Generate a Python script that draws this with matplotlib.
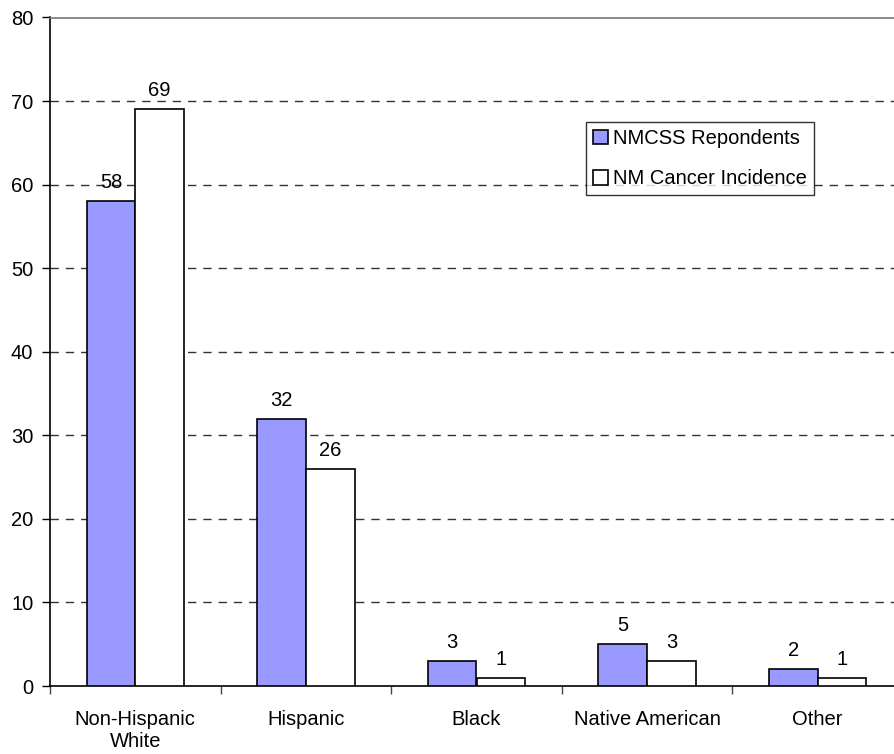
import matplotlib
matplotlib.use("Agg")
import matplotlib.pyplot as plt
import numpy as np

categories = ["Non-Hispanic\nWhite", "Hispanic", "Black", "Native American", "Other"]
respondents = [58, 32, 3, 5, 2]
incidence = [69, 26, 1, 3, 1]
series_names = ["NMCSS Repondents", "NM Cancer Incidence"]
y_ticks = [0, 10, 20, 30, 40, 50, 60, 70, 80]

plt.rcParams["font.family"] = ["Liberation Sans", "DejaVu Sans"]
FS = 14.5

fig = plt.figure(figsize=(8.95, 7.54), dpi=100)
ax = fig.add_axes([50 / 895, 68 / 754, 853 / 895, 668.5 / 754])

x = np.arange(len(categories))
w = 0.285
b1 = ax.bar(x - w / 2, respondents, w, color="#9999FF", edgecolor="black",
            linewidth=1.2, label=series_names[0], zorder=3)
b2 = ax.bar(x + w / 2, incidence, w, color="white", edgecolor="black",
            linewidth=1.2, label=series_names[1], zorder=3)

for bars, vals in ((b1, respondents), (b2, incidence)):
    for r, v in zip(bars, vals):
        ax.annotate(str(v), (r.get_x() + r.get_width() / 2, v),
                    xytext=(0, 6.5), textcoords="offset points",
                    ha="center", va="bottom", fontsize=FS, zorder=4)

ax.set_xlim(-0.5, len(categories) - 0.5)
ax.set_ylim(0, 80)
ax.set_yticks(y_ticks)
ax.set_yticklabels([str(t) for t in y_ticks], fontsize=FS)
ax.set_xticks(x)
ax.set_xticklabels(categories, fontsize=FS)
ax.tick_params(axis="x", length=0, pad=17)
ax.set_xticks(np.arange(len(categories) + 1) - 0.5, minor=True)
ax.tick_params(axis="x", which="minor", length=6, width=1, color="#444")
ax.tick_params(axis="y", length=6, width=1, pad=6)

for t in y_ticks[1:-1]:
    ax.axhline(t, color="#333", linewidth=1, linestyle=(0, (6, 5)), zorder=1)

ax.spines["right"].set_visible(False)
ax.spines["top"].set_color("#777")
ax.spines["top"].set_linewidth(1.2)
ax.spines["left"].set_linewidth(1.2)
ax.spines["bottom"].set_linewidth(1.2)

leg = ax.legend(loc="upper left", bbox_to_anchor=(536 / 853, (686 - 122) / 668.5),
                fontsize=FS, frameon=True, fancybox=False, edgecolor="black",
                handlelength=0.75, handleheight=0.75, handletextpad=0.25,
                labelspacing=1.05, borderpad=0.35, borderaxespad=0)
leg.get_frame().set_linewidth(1)
leg.set_zorder(5)

fig.savefig("out.png", dpi=100)
